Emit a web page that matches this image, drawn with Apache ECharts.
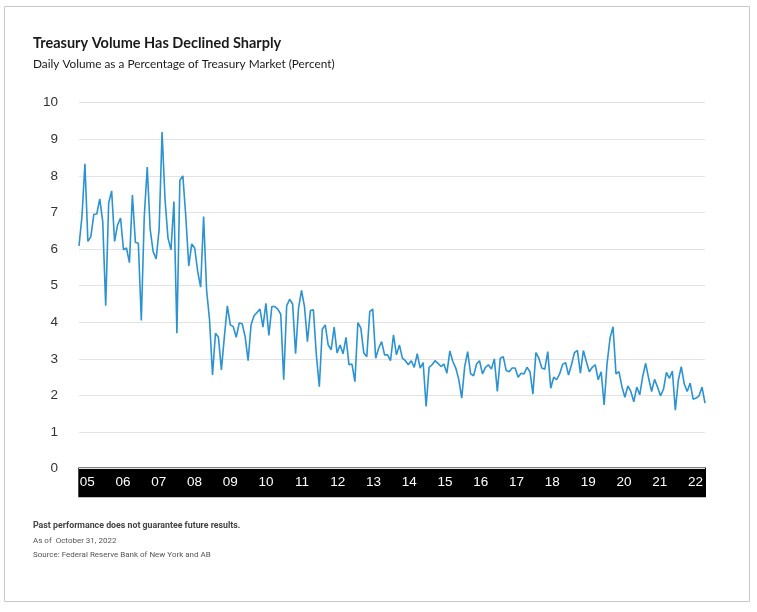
<!DOCTYPE html>
<html>
<head>
<meta charset="utf-8">
<script src="https://cdn.jsdelivr.net/npm/echarts@6/dist/echarts.min.js"></script>
<style>
  html, body { margin: 0; padding: 0; background: #fff; }
  #main { width: 757px; height: 612px; }
</style>
</head>
<body>
<div id="main"></div>
<script>
// monthly volume share, Mar 2005 - Oct 2022 (percent)
var vol_2005_2008 = [6.09, 6.89, 8.33, 6.21, 6.34, 6.95, 6.96, 7.37, 6.75, 4.45,
	7.26, 7.59, 6.21, 6.66, 6.85, 5.98, 6.03, 5.63, 7.48, 6.19, 6.16, 4.05,
	6.89, 8.24, 6.53, 5.93, 5.73, 6.53, 9.20, 7.35, 6.30, 5.98, 7.30, 3.70,
	7.88, 8.00, 6.89, 5.54, 6.14, 6.03, 5.39, 4.96, 6.89, 4.89, 4.07, 2.56,
	3.70, 3.59, 2.70, 3.61, 4.45, 3.93, 3.88, 3.59, 3.98];
var vol_2009_2013 = [3.96, 3.61, 2.95, 3.93, 4.18, 4.27, 4.36, 3.87, 4.52, 3.64,
	4.43, 4.43, 4.36, 4.22, 2.43, 4.45, 4.63, 4.50, 3.14, 4.39,
	4.87, 4.43, 3.47, 4.32, 4.34, 3.11, 2.24, 3.81, 3.93, 3.38,
	3.25, 3.87, 3.16, 3.38, 3.14, 3.59, 2.84, 2.86, 2.38, 3.99,
	3.84, 3.16, 3.06, 4.29, 4.36, 3.02, 3.29, 3.47, 3.11, 3.11];
var vol_2013_2018 = [2.95, 3.66, 3.11, 3.38, 3.02, 2.95, 2.84, 2.95, 2.77, 3.14,
	2.75, 2.90, 1.70, 2.77, 2.84, 2.95, 2.88, 2.79, 2.86, 2.61,
	3.22, 2.93, 2.75, 2.44, 1.93, 2.79, 3.20, 2.59, 2.54, 2.86,
	2.95, 2.59, 2.77, 2.84, 2.72, 3.00, 2.11, 3.02, 3.06, 2.68,
	2.65, 2.75, 2.75, 2.50, 2.61, 2.59, 2.77, 2.65, 2.04, 3.17,
	3.02, 2.75, 2.72, 3.20];
var vol_2018_2022 = [2.20, 2.50, 2.43, 2.59, 2.85, 2.90, 2.56, 2.84, 3.17, 3.23,
	2.61, 3.23, 2.93, 2.65, 2.77, 2.84, 2.43, 2.65, 1.74, 2.88,
	3.57, 3.88, 2.59, 2.65, 2.24, 1.95, 2.26, 2.11, 1.83, 2.23,
	2.02, 2.52, 2.88, 2.47, 2.11, 2.44, 2.23, 1.99, 2.17, 2.63,
	2.47, 2.67, 1.60, 2.41, 2.79, 2.32, 2.11, 2.34, 1.90, 1.93,
	1.99, 2.23, 1.79];
var year_labels = ['05', '06', '07', '08', '09', '10', '11', '12', '13',
	'14', '15', '16', '17', '18', '19', '20', '21', '22'];
var y_ticks = [0, 1, 2, 3, 4, 5, 6, 7, 8, 9, 10];

var volume = vol_2005_2008.concat(vol_2009_2013, vol_2013_2018, vol_2018_2022);

// month categories, starting March 2005
var months = [];
for (var i = 0; i < volume.length; i++) {
	var m = (i + 2) % 12 + 1;
	var y = 2005 + Math.floor((i + 2) / 12);
	months.push(y + '-' + (m < 10 ? '0' + m : m));
}

var chart = echarts.init(document.getElementById('main'));

var option = {
	animation: false,
	backgroundColor: '#fff',
	grid: [
		{ left: 79, right: 52, top: 102.7, bottom: 143.3 },
		// black band under the plot
		{ left: 78.3, right: 51, top: 467.5, height: 29.8, show: true, backgroundColor: '#000', borderWidth: 0 },
		// year labels sit inside the band
		{ left: 87.2, right: 61.5, top: 481.5, height: 1 }
	],
	xAxis: [
		{
			type: 'category', gridIndex: 0, data: months, boundaryGap: false,
			axisLine: { show: false }, axisTick: { show: false }, axisLabel: { show: false },
			splitLine: { show: false }
		},
		{ type: 'value', gridIndex: 1, show: false },
		{
			type: 'category', gridIndex: 2, data: year_labels, boundaryGap: false,
			axisLine: { show: false }, axisTick: { show: false },
			axisLabel: {
				interval: 0, margin: 0, verticalAlign: 'middle', color: '#fff',
				fontFamily: 'Liberation Sans', fontSize: 13.5
			}
		}
	],
	yAxis: [
		{
			type: 'value', gridIndex: 0, min: y_ticks[0], max: y_ticks[y_ticks.length - 1], interval: 1,
			axisLine: { show: false }, axisTick: { show: false },
			axisLabel: { margin: 21, color: '#333', fontFamily: 'Liberation Sans', fontSize: 13.5 },
			splitLine: { lineStyle: { color: '#e3e3e3', width: 1 } }
		},
		{ type: 'value', gridIndex: 1, show: false },
		{ type: 'value', gridIndex: 2, show: false }
	],
	series: [
		{
			name: 'Daily Volume',
			type: 'line',
			xAxisIndex: 0,
			yAxisIndex: 0,
			data: volume,
			showSymbol: false,
			lineStyle: { color: '#2b93d1', width: 1.6 },
			itemStyle: { color: '#2b93d1' }
		}
	],
	graphic: [
		{
			type: 'rect', silent: true, z: -1,
			shape: { x: 4.5, y: 6.5, width: 745, height: 595 },
			style: { fill: 'none', stroke: '#c8c8c8', lineWidth: 1 }
		},
		{
			type: 'text', x: 33, y: 43.5,
			style: { text: 'Treasury Volume Has Declined Sharply', fill: '#1a1a1a', font: 'bold 14.5px Lato', verticalAlign: 'middle' }
		},
		{
			type: 'text', x: 33, y: 64.5,
			style: { text: 'Daily Volume as a Percentage of Treasury Market (Percent)', fill: '#1a1a1a', font: '11.8px Lato', verticalAlign: 'middle' }
		},
		{
			type: 'text', x: 33, y: 526,
			style: { text: 'Past performance does not guarantee future results.', fill: '#444', font: 'bold 8.8px Roboto', verticalAlign: 'middle' }
		},
		{
			type: 'text', x: 33, y: 540.5,
			style: { text: 'As of  October 31, 2022', fill: '#555', font: '8px Roboto', verticalAlign: 'middle' }
		},
		{
			type: 'text', x: 33, y: 554.5,
			style: { text: 'Source: Federal Reserve Bank of New York and AB', fill: '#555', font: '8px Roboto', verticalAlign: 'middle' }
		}
	]
};

chart.setOption(option);
</script>
</body>
</html>
